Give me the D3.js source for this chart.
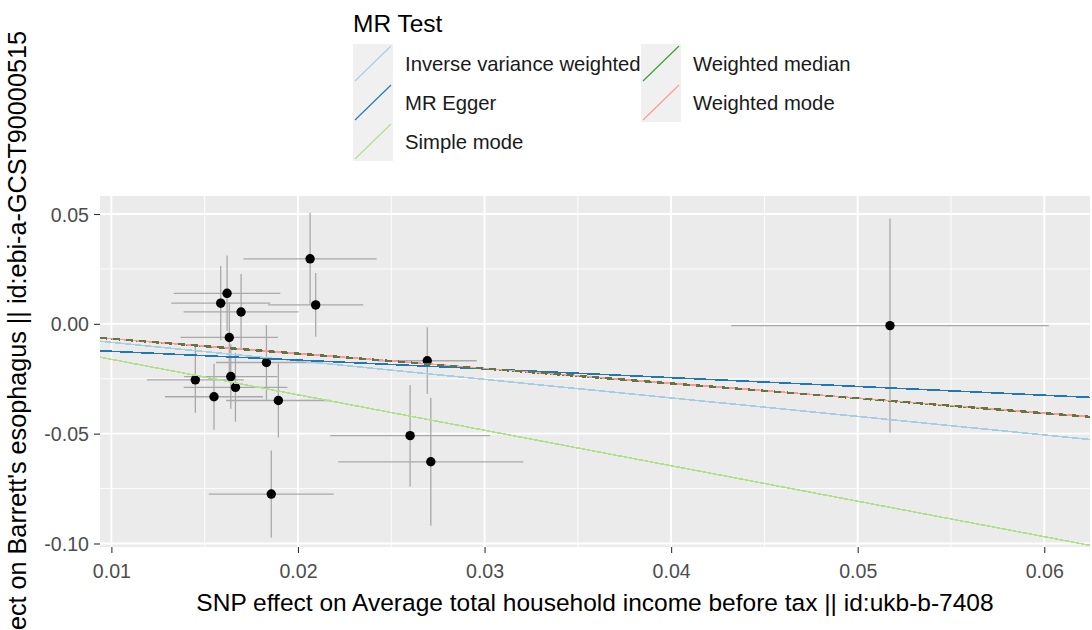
<!DOCTYPE html>
<html>
<head>
<meta charset="utf-8">
<style>
  body { margin: 0; background: #fff; }
  svg  { display: block; font-family: "Liberation Sans", Arial, sans-serif; }
  .tick text { fill: #4d4d4d; font-size: 19.6px; }
  .tick line { stroke: #333; stroke-width: 1.1; }
</style>
<title>MR scatter plot</title>
</head>
<body>
<script src="https://d3js.org/d3.v7.min.js"></script>
<script>

// SNP effects (exposure = income, outcome = Barrett's)
var betaExposure = [0.02065, 0.02095, 0.0162, 0.01586, 0.01695, 0.01632, 0.01831, 0.02693, 0.0145,
                    0.0164, 0.01665, 0.0155, 0.01895, 0.01857, 0.02601, 0.02712, 0.05173];
var seExposure   = [0.00357, 0.00255, 0.00286, 0.00265, 0.00308, 0.00261, 0.0027, 0.00265, 0.0026,
                    0.0025, 0.00278, 0.00263, 0.0028, 0.00335, 0.00429, 0.00496, 0.00851];
var betaOutcome  = [0.0296, 0.0086, 0.0139, 0.0094, 0.0054, -0.0062, -0.0176, -0.0168, -0.0255,
                    -0.024, -0.0289, -0.0332, -0.0349, -0.0775, -0.0509, -0.0628, -0.0008];
var seOutcome    = [0.021, 0.0145, 0.0172, 0.0169, 0.0173, 0.016, 0.017, 0.0152, 0.015,
                    0.0147, 0.0157, 0.015, 0.0168, 0.0198, 0.0231, 0.0291, 0.0487];

// MR estimates, one line per method
var methods    = ["Inverse variance weighted", "MR Egger", "Simple mode", "Weighted median", "Weighted mode"];
var slopes     = [-0.843, -0.40, -1.615, -0.678, -0.676];
var intercepts = [0, -0.0085, 0, 0, 0];
var colors     = ["#a6cee3", "#1f78b4", "#b2df8a", "#33a02c", "#fb9a99"];

var xTicks = [0.01, 0.02, 0.03, 0.04, 0.05, 0.06];
var xMinor = [0.015, 0.025, 0.035, 0.045, 0.055];
var yTicks = [0.05, 0, -0.05, -0.10];
var yMinor = [0.025, -0.025, -0.075];

var xDomain = [0.00939, 0.06245];
var yDomain = [-0.1016, 0.0582];

var width = 1092, height = 630;
var panel = {left: 100, right: 1090, top: 196, bottom: 547};

var fmt = d3.formatLocale({decimal: ".", thousands: ",", grouping: [3], currency: ["", ""], minus: "-"}).format(".2f");

var svg = d3.select("body").append("svg")
    .attr("width", width)
    .attr("height", height);

svg.append("rect").attr("width", width).attr("height", height).attr("fill", "#fff");

var x = d3.scaleLinear().domain(xDomain).range([panel.left, panel.right]);
var y = d3.scaleLinear().domain(yDomain).range([panel.bottom, panel.top]);

// panel background + grid
svg.append("rect")
    .attr("x", panel.left).attr("y", panel.top)
    .attr("width", panel.right - panel.left).attr("height", panel.bottom - panel.top)
    .attr("fill", "#ebebeb");

svg.append("clipPath").attr("id", "clip")
  .append("rect")
    .attr("x", panel.left).attr("y", panel.top)
    .attr("width", panel.right - panel.left).attr("height", panel.bottom - panel.top);

var grid = svg.append("g").attr("stroke", "#fff");

grid.selectAll(".xminor").data(xMinor).enter().append("line")
    .attr("x1", x).attr("x2", x).attr("y1", panel.top).attr("y2", panel.bottom)
    .attr("stroke-width", 0.9);
grid.selectAll(".yminor").data(yMinor).enter().append("line")
    .attr("y1", y).attr("y2", y).attr("x1", panel.left).attr("x2", panel.right)
    .attr("stroke-width", 0.9);
grid.selectAll(".xmajor").data(xTicks).enter().append("line")
    .attr("x1", x).attr("x2", x).attr("y1", panel.top).attr("y2", panel.bottom)
    .attr("stroke-width", 1.9);
grid.selectAll(".ymajor").data(yTicks).enter().append("line")
    .attr("y1", y).attr("y2", y).attr("x1", panel.left).attr("x2", panel.right)
    .attr("stroke-width", 1.9);

var plot = svg.append("g").attr("clip-path", "url(#clip)");

var snps = betaExposure.map(function(d, i) {
  return {bx: d, sx: seExposure[i], by: betaOutcome[i], sy: seOutcome[i]};
});

// error bars
plot.selectAll(".ebv").data(snps).enter().append("line")
    .attr("x1", function(d) { return x(d.bx); })
    .attr("x2", function(d) { return x(d.bx); })
    .attr("y1", function(d) { return y(d.by - d.sy); })
    .attr("y2", function(d) { return y(d.by + d.sy); })
    .attr("stroke", "#a9a9a9").attr("stroke-width", 1.3);

plot.selectAll(".ebh").data(snps).enter().append("line")
    .attr("y1", function(d) { return y(d.by); })
    .attr("y2", function(d) { return y(d.by); })
    .attr("x1", function(d) { return x(d.bx - d.sx); })
    .attr("x2", function(d) { return x(d.bx + d.sx); })
    .attr("stroke", "#a9a9a9").attr("stroke-width", 1.3);

plot.selectAll("circle").data(snps).enter().append("circle")
    .attr("cx", function(d) { return x(d.bx); })
    .attr("cy", function(d) { return y(d.by); })
    .attr("r", 4.7)
    .attr("fill", "#000");

// abline per method
var lines = methods.map(function(m, i) {
  return {name: m, b: slopes[i], a: intercepts[i], color: colors[i]};
});

plot.selectAll(".mr").data(lines).enter().append("line")
    .attr("x1", x(xDomain[0]))
    .attr("x2", x(xDomain[1]))
    .attr("y1", function(d) { return y(d.a + d.b * xDomain[0]); })
    .attr("y2", function(d) { return y(d.a + d.b * xDomain[1]); })
    .attr("stroke", function(d) { return d.color; })
    .attr("stroke-width", 1.6)
    .style("shape-rendering", "crispEdges");

// median and mode nearly coincide; show median as dashes over the pink
var wm = lines[3];
plot.append("line")
    .attr("x1", x(xDomain[0])).attr("x2", x(xDomain[1]))
    .attr("y1", y(wm.a + wm.b * xDomain[0]))
    .attr("y2", y(wm.a + wm.b * xDomain[1]))
    .attr("stroke", "#6a7240")
    .attr("stroke-width", 2.4)
    .attr("stroke-dasharray", "7,6")
    .style("shape-rendering", "crispEdges");

// axes
var gx = svg.append("g")
    .attr("transform", "translate(0," + panel.bottom + ")")
    .call(d3.axisBottom(x).tickValues(xTicks).tickFormat(fmt).tickSize(6).tickPadding(11));
gx.select(".domain").remove();

var gy = svg.append("g")
    .attr("transform", "translate(" + panel.left + ",0)")
    .call(d3.axisLeft(y).tickValues(yTicks).tickFormat(fmt).tickSize(6).tickPadding(5));
gy.select(".domain").remove();
gy.selectAll(".tick text").attr("dy", "0.36em");

svg.append("text")
    .attr("x", (panel.left + panel.right) / 2)
    .attr("y", 611)
    .attr("text-anchor", "middle")
    .attr("font-size", "24.5px")
    .attr("fill", "#000")
    .text("SNP effect on Average total household income before tax || id:ukb-b-7408");

svg.append("text")
    .attr("transform", "translate(26," + ((panel.top + panel.bottom) / 2 + 2) + ") rotate(-90)")
    .attr("text-anchor", "middle")
    .attr("font-size", "25.2px")
    .attr("fill", "#000")
    .text("SNP effect on Barrett's esophagus || id:ebi-a-GCST90000515");

// legend
var legend = svg.append("g");
legend.append("text")
    .attr("x", 353).attr("y", 32)
    .attr("font-size", "24.5px")
    .text("MR Test");

var keySize = 40;
var colX = [353, 641];
var item = legend.selectAll(".item").data(lines).enter().append("g")
    .attr("transform", function(d, i) {
      var col = i < 3 ? 0 : 1, row = i < 3 ? i : i - 3;
      return "translate(" + colX[col] + "," + (44 + row * 39) + ")";
    });

item.append("rect")
    .attr("width", keySize).attr("height", 39)
    .attr("fill", "#f0f0f0");

item.append("line")
    .attr("x1", 2).attr("y1", 37)
    .attr("x2", keySize - 2).attr("y2", 2)
    .attr("stroke", function(d) { return d.color; })
    .attr("stroke-width", 1.1);

item.append("text")
    .attr("x", keySize + 12)
    .attr("y", 20)
    .attr("dy", "0.35em")
    .attr("font-size", "20.3px")
    .attr("fill", "#1a1a1a")
    .text(function(d) { return d.name; });

</script>
</body>
</html>
